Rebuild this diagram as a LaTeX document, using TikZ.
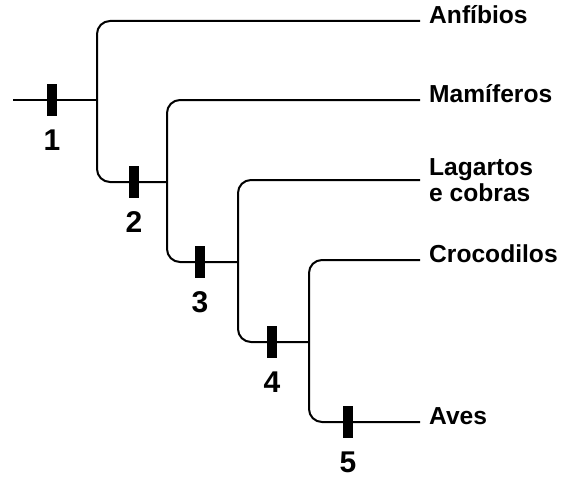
\documentclass[tikz,border=0pt]{standalone}
\usepackage{fontspec}
\setmainfont{Liberation Sans}
\begin{document}
\begin{tikzpicture}[x=1pt, y=-1pt,
    branch/.style = {line width=2pt, rounded corners=13pt},
    tick/.style = {fill=black, inner sep=0pt, minimum width=10pt, minimum height=32pt},
    ticklabel/.style = {anchor=base, inner sep=0pt, font=\bfseries\fontsize{30}{30}\selectfont},
    taxon/.style = {anchor=mid west, inner sep=0pt, xshift=9pt, align=left,
                    font=\bfseries\fontsize{24.6}{26}\selectfont}]
    \useasboundingbox (0,0) rectangle (569,476);
    \coordinate (root) at (13,100);
    \coordinate (cA) at (97,100);
    \coordinate (cB) at (167,182);
    \coordinate (cC) at (238,262);
    \coordinate (cD) at (309,342);
    \coordinate (anf) at (420,21);
    \coordinate (mam) at (420,100);
    \coordinate (lag) at (420,180);
    \coordinate (cro) at (420,260);
    \coordinate (ave) at (420,422);
    \draw[branch] (root) -- (cA);
    \draw[branch] (anf) -| (cA) |- (cB);
    \draw[branch] (mam) -| (cB) |- (cC);
    \draw[branch] (lag) -| (cC) |- (cD);
    \draw[branch] (cro) -| (cD) |- (ave);
    \foreach \x/\y/\n in {52/100/1, 134/182/2, 200/262/3, 272/342/4, 348/422/5} {
        \node[tick] (t\n) at (\x,\y) {};
        \node[ticklabel, yshift=-34pt] (l\n) at (t\n.south) {\n};
    }
    \node[taxon] (nAnf) at (anf) {Anfíbios};
    \node[taxon] (nMam) at (mam) {Mamíferos};
    \node[taxon, anchor=west] (nLag) at (lag) {Lagartos\\e cobras};
    \node[taxon] (nCro) at (cro) {Crocodilos};
    \node[taxon] (nAve) at (ave) {Aves};
\end{tikzpicture}
\end{document}
